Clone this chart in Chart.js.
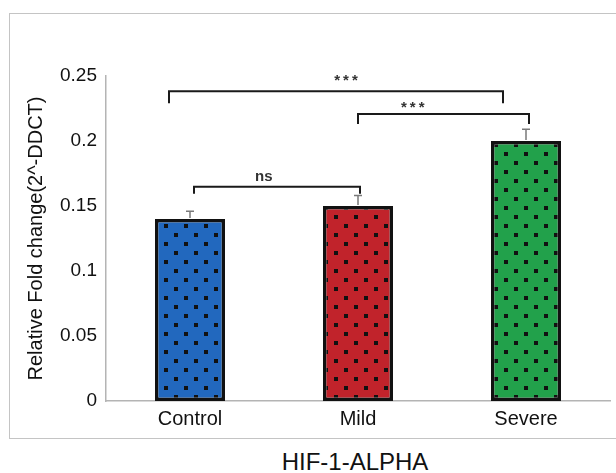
<!DOCTYPE html>
<html lang="en">
<head>
    <meta charset="UTF-8">
    <title>HIF-1-ALPHA</title>
    <script src="https://cdn.jsdelivr.net/npm/chart.js"></script>
    <style>
        html, body { margin: 0; padding: 0; background: #fff; overflow: hidden; }
        body { width: 616px; height: 473px; position: relative; font-family: "Liberation Sans", Arial, sans-serif; }
        #frame { position: absolute; left: 9px; top: 13px; width: 700px; height: 424px; border: 1.5px solid #c4c4c4; }
        #chart { position: absolute; left: 10px; top: 14px; }
        #caption { position: absolute; left: 0; width: 710px; top: 448px; text-align: center; font-size: 24px; color: #111; }
    </style>
</head>
<body>
    <div id="frame"></div>
    <canvas id="chart" width="606" height="424"></canvas>
    <div id="caption">HIF-1-ALPHA</div>

    <script>
        // values
        const groups = ['Control', 'Mild', 'Severe'];
        const foldChange = [0.14, 0.15, 0.2];
        const errorUp = [0.006, 0.008, 0.009];
        const fillColors = ['#2268be', '#c1232b', '#22a14b'];
        const yTicks = [0, 0.05, 0.1, 0.15, 0.2, 0.25];

        // significance brackets: from/to group index, level in y units
        const brackets = [
            { from: 0, to: 2, level: 0.2383, drop: 12, dx: [-21, -23], text: '***', at: 0.53, lift: 6 },
            { from: 1, to: 2, level: 0.2207, drop: 10, dx: [0, 3], text: '***', at: 0.32, lift: 2 },
            { from: 0, to: 1, level: 0.1648, drop: 7, dx: [4, 2], text: 'ns', at: 0.42, lift: 6 }
        ];

        function dotPattern(color) {
            const c = document.createElement('canvas');
            c.width = 20; c.height = 18;
            const g = c.getContext('2d');
            g.fillStyle = color;
            g.fillRect(0, 0, 20, 18);
            g.fillStyle = '#111';
            g.fillRect(4, 3, 4, 4);
            g.fillRect(14, 12, 4, 4);
            return document.getElementById('chart').getContext('2d').createPattern(c, 'repeat');
        }

        const annotations = {
            id: 'annotations',
            afterDatasetsDraw(chart) {
                const ctx = chart.ctx;
                const x = chart.scales.x, y = chart.scales.y;
                ctx.save();

                // error bars (upper only)
                ctx.strokeStyle = '#7a7a7a';
                ctx.lineWidth = 1.5;
                foldChange.forEach((v, i) => {
                    const cx = x.getPixelForValue(i);
                    const y0 = y.getPixelForValue(v);
                    const y1 = y.getPixelForValue(v + errorUp[i]);
                    ctx.beginPath();
                    ctx.moveTo(cx, y0 - 1);
                    ctx.lineTo(cx, y1);
                    ctx.moveTo(cx - 4, y1);
                    ctx.lineTo(cx + 4, y1);
                    ctx.stroke();
                });

                // brackets
                ctx.strokeStyle = '#1a1a1a';
                ctx.lineWidth = 2;
                ctx.fillStyle = '#333';
                ctx.textAlign = 'center';
                ctx.textBaseline = 'alphabetic';
                brackets.forEach(b => {
                    const x0 = x.getPixelForValue(b.from) + b.dx[0];
                    const x1 = x.getPixelForValue(b.to) + b.dx[1];
                    const ly = y.getPixelForValue(b.level);
                    ctx.beginPath();
                    ctx.moveTo(x0, ly + b.drop);
                    ctx.lineTo(x0, ly);
                    ctx.lineTo(x1, ly);
                    ctx.lineTo(x1, ly + b.drop);
                    ctx.stroke();
                    const tx = x0 + (x1 - x0) * b.at;
                    if (b.text === 'ns') {
                        ctx.font = 'bold 15px "Liberation Sans", Arial, sans-serif';
                        ctx.letterSpacing = '0px';
                        ctx.fillText(b.text, tx, ly - b.lift);
                    } else {
                        ctx.font = 'bold 15px "Liberation Sans", Arial, sans-serif';
                        ctx.letterSpacing = '3px';
                        ctx.fillText(b.text, tx + 1.5, ly - b.lift);
                    }
                });
                ctx.restore();
            }
        };

        const ctx = document.getElementById('chart').getContext('2d');
        new Chart(ctx, {
            type: 'bar',
            data: {
                labels: groups,
                datasets: [{
                    data: foldChange,
                    backgroundColor: fillColors.map(dotPattern),
                    borderColor: '#111',
                    borderWidth: 3.5,
                    borderSkipped: false,
                    categoryPercentage: 1,
                    barPercentage: 0.417
                }]
            },
            options: {
                responsive: false,
                devicePixelRatio: 1,
                animation: false,
                layout: { padding: { top: 62, right: 6, left: 0, bottom: 0 } },
                plugins: { legend: { display: false }, tooltip: { enabled: false } },
                scales: {
                    x: {
                        grid: { display: false, drawTicks: false },
                        border: { display: true, color: '#b4b4b4', width: 1.5 },
                        ticks: { padding: 6, color: '#111', font: { size: 20, family: '"Liberation Sans", Arial, sans-serif' } },
                        afterFit(scale) { scale.height = 37; }
                    },
                    y: {
                        min: 0,
                        max: 0.25,
                        grid: { display: false, drawTicks: false },
                        border: { display: true, color: '#b4b4b4', width: 1.5 },
                        afterBuildTicks(scale) { scale.ticks = yTicks.map(v => ({ value: v })); },
                        ticks: {
                            padding: 9,
                            color: '#111',
                            font: { size: 19, family: '"Liberation Sans", Arial, sans-serif' },
                            callback: v => String(+v.toFixed(2))
                        },
                        title: {
                            display: true,
                            text: 'Relative Fold change(2^-DDCT)',
                            color: '#111',
                            padding: { top: 14, bottom: 0 },
                            font: { size: 20, family: '"Liberation Sans", Arial, sans-serif' }
                        },
                        afterFit(scale) { scale.width = 96; }
                    }
                }
            },
            plugins: [annotations]
        });
    </script>
</body>
</html>
